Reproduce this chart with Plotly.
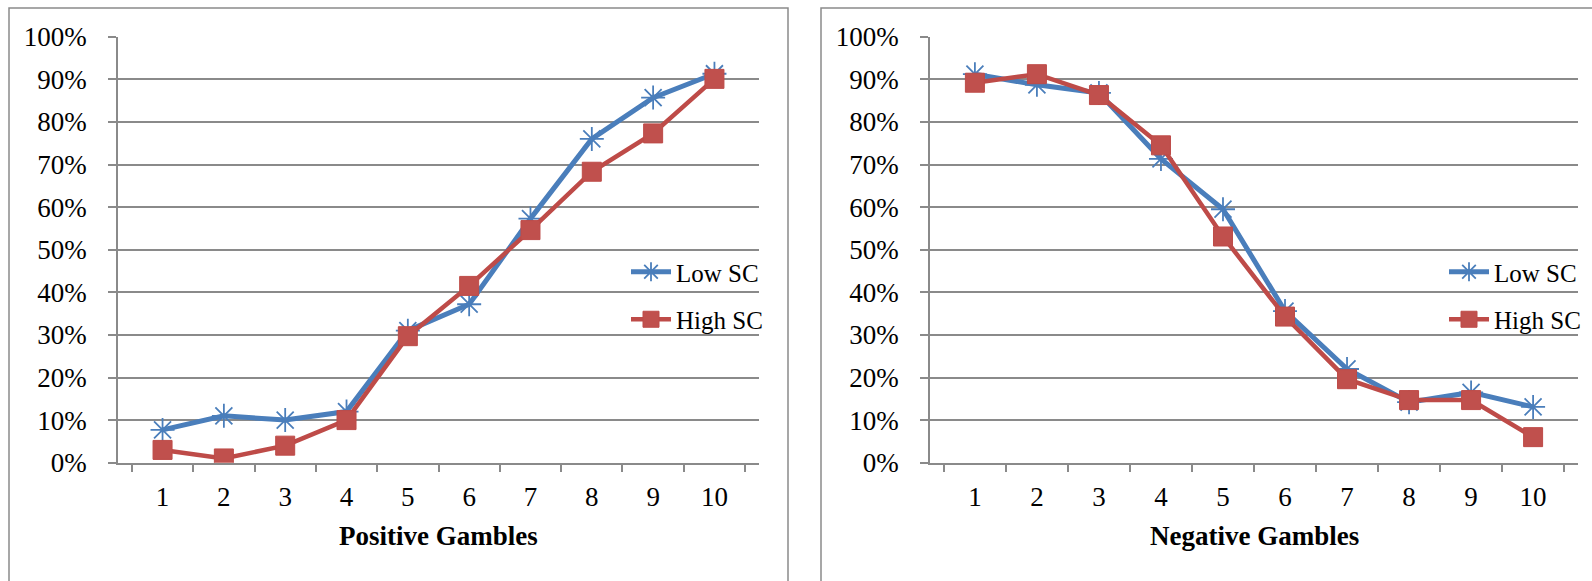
import plotly.graph_objects as go

# Gamble index (category labels on both x axes)
gambles = ["1", "2", "3", "4", "5", "6", "7", "8", "9", "10"]

# Share choosing the gamble, positive gambles
pos_low_sc = [0.077, 0.110, 0.100, 0.120, 0.310, 0.372, 0.573, 0.760, 0.857, 0.913]
pos_high_sc = [0.030, 0.010, 0.040, 0.100, 0.297, 0.415, 0.546, 0.683, 0.773, 0.901]

# Share choosing the gamble, negative gambles
neg_low_sc = [0.912, 0.887, 0.868, 0.713, 0.595, 0.356, 0.220, 0.142, 0.165, 0.131]
neg_high_sc = [0.892, 0.912, 0.863, 0.745, 0.531, 0.343, 0.196, 0.147, 0.147, 0.060]

y_ticks = [0, 0.1, 0.2, 0.3, 0.4, 0.5, 0.6, 0.7, 0.8, 0.9, 1.0]

W, H = 1592, 581
FONT = "Liberation Serif"
BLUE = "#4A7EBB"
RED = "#BE4B48"
GRID = "#8A8A8A"


def px_x(v):
    return v / W


def px_y(v):
    return 1 - v / H


fig = go.Figure()

panels = [
    ("x", "y", "legend", "p", pos_low_sc, pos_high_sc),
    ("x2", "y2", "legend2", "n", neg_low_sc, neg_high_sc),
]
for xa, ya, lg, key, low, high in panels:
    fig.add_trace(go.Scatter(
        x=gambles, y=low, name="Low SC", xaxis=xa, yaxis=ya, legend=lg,
        legendgroup=key + "low", mode="lines+markers",
        line=dict(color=BLUE, width=5),
        marker=dict(symbol="asterisk-open", size=20, color=BLUE,
                    line=dict(color=BLUE, width=1.8)),
    ))
    fig.add_trace(go.Scatter(
        x=gambles, y=high, name="High SC", xaxis=xa, yaxis=ya, legend=lg,
        legendgroup=key + "high", mode="lines+markers",
        line=dict(color=RED, width=4.5),
        marker=dict(symbol="square", size=19, color="#C0504D",
                    line=dict(color=RED, width=1)),
    ))

y_dom = [px_y(462.7), px_y(36.7)]
x_doms = [[px_x(118), px_x(759)], [px_x(930), px_x(1578)]]

axis_common_x = dict(
    type="category", tickson="boundaries", ticks="outside", ticklen=8,
    tickwidth=1.5, tickcolor=GRID, showline=True, linecolor=GRID, linewidth=1.5,
    showgrid=False, zeroline=False, ticklabelstandoff=9, automargin=False,
    tickfont=dict(family=FONT, size=27, color="#000"),
)
axis_common_y = dict(
    range=[0, 1], tickvals=y_ticks, tickformat=".0%", ticks="outside",
    ticklen=8, tickwidth=1.5, tickcolor=GRID, showline=True, linecolor=GRID,
    linewidth=1.5, showgrid=True, gridcolor=GRID, gridwidth=1.5,
    zeroline=False, ticklabelstandoff=16, automargin=False,
    tickfont=dict(family=FONT, size=27, color="#000"),
)

legend_common = dict(
    font=dict(family=FONT, size=25, color="#000"),
    bgcolor="rgba(0,0,0,0)", borderwidth=0, xanchor="left", yanchor="top",
    traceorder="grouped", tracegroupgap=12, itemwidth=40,
)

fig.update_layout(
    width=W, height=H, autosize=False,
    margin=dict(l=0, r=0, t=0, b=0, autoexpand=False),
    paper_bgcolor="white", plot_bgcolor="white",
    xaxis=dict(domain=x_doms[0], anchor="y", **axis_common_x),
    yaxis=dict(domain=y_dom, anchor="x", **axis_common_y),
    xaxis2=dict(domain=x_doms[1], anchor="y2", **axis_common_x),
    yaxis2=dict(domain=y_dom, anchor="x2", **axis_common_y),
    legend=dict(x=px_x(626), y=px_y(249), **legend_common),
    legend2=dict(x=px_x(1444), y=px_y(249), **legend_common),
    showlegend=True,
)

# Axis titles under each panel
for dom, title in zip(x_doms, ["Positive Gambles", "Negative Gambles"]):
    fig.add_annotation(
        text="<b>" + title + "</b>", xref="paper", yref="paper",
        x=(dom[0] + dom[1]) / 2, y=px_y(536), xanchor="center",
        yanchor="middle", showarrow=False,
        font=dict(family=FONT, size=27, color="#000"),
    )

# Chart-area frames around each panel
fig.add_shape(type="rect", xref="paper", yref="paper",
              x0=px_x(9), x1=px_x(788), y0=-0.05, y1=px_y(8),
              line=dict(color=GRID, width=1.5), layer="below")
fig.add_shape(type="rect", xref="paper", yref="paper",
              x0=px_x(821), x1=1.05, y0=-0.05, y1=px_y(8),
              line=dict(color=GRID, width=1.5), layer="below")

fig.write_html("out.html")
